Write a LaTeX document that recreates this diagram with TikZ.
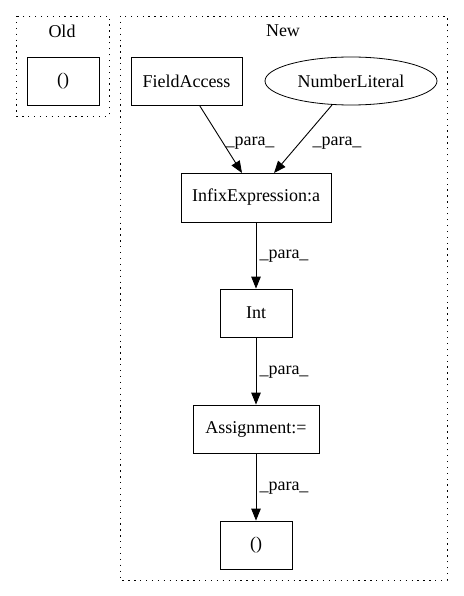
\documentclass[tikz,border=0pt]{standalone}
\usepackage{fontspec}
\setmainfont{Liberation Serif}
\usetikzlibrary{arrows.meta,shapes.geometric}
\begin{document}
\begin{tikzpicture}[x=1pt,y=-1pt,
  box/.style={draw,rectangle,line width=0.8pt,inner sep=0pt,font=\fontsize{18}{20}\selectfont},
  oval/.style={draw,ellipse,line width=0.8pt,inner sep=0pt,font=\fontsize{18}{20}\selectfont},
  cluster/.style={draw,line width=0.9pt,dash pattern=on 1.3pt off 4.6pt},
  edge/.style={line width=0.9pt,-{Triangle[length=12pt,width=9.5pt]}},
  lbl/.style={font=\fontsize{18}{20}\selectfont,inner sep=0pt},
  ttl/.style={font=\fontsize{18}{20}\selectfont,inner sep=0pt}]
\useasboundingbox (0,0) rectangle (463,596);
% clusters
\draw[cluster] (16,16) rectangle (109,116);
\node[ttl] (told) at (62,31) {Old};
\draw[cluster] (120,16) rectangle (447,580);
\node[ttl] (tnew) at (283,31) {New};
% nodes
\node[box,minimum width=72pt,minimum height=48pt] (oldp) at (63,81) {()};
\node[box,minimum width=111pt,minimum height=48pt] (fa) at (186.5,81) {FieldAccess};
\node[oval,minimum width=172pt,minimum height=48pt] (nl) at (351,81) {NumberLiteral};
\node[box,minimum width=150pt,minimum height=49pt] (ie) at (256,197.5) {InfixExpression:a};
\node[box,minimum width=72pt,minimum height=48pt] (int) at (256,313) {Int};
\node[box,minimum width=126pt,minimum height=48pt] (as) at (256,429) {Assignment:=};
\node[box,minimum width=72pt,minimum height=48pt] (np) at (256,545) {()};
% edges
\draw[edge] (fa.south) ++(13,0) coordinate (fas) -- (242,173) coordinate (iet1);
\draw[edge] (332,105) coordinate (nls) -- (274,173) coordinate (iet2);
\draw[edge] (ie) -- (int);
\draw[edge] (int) -- (as);
\draw[edge] (as) -- (np);
% edge labels
\node[lbl] (l1) at (250,143) {\_para\_};
\node[lbl] (l2) at (337,143) {\_para\_};
\node[lbl] (l3) at (284,256) {\_para\_};
\node[lbl] (l4) at (284,372) {\_para\_};
\node[lbl] (l5) at (284,488) {\_para\_};
\end{tikzpicture}
\end{document}
